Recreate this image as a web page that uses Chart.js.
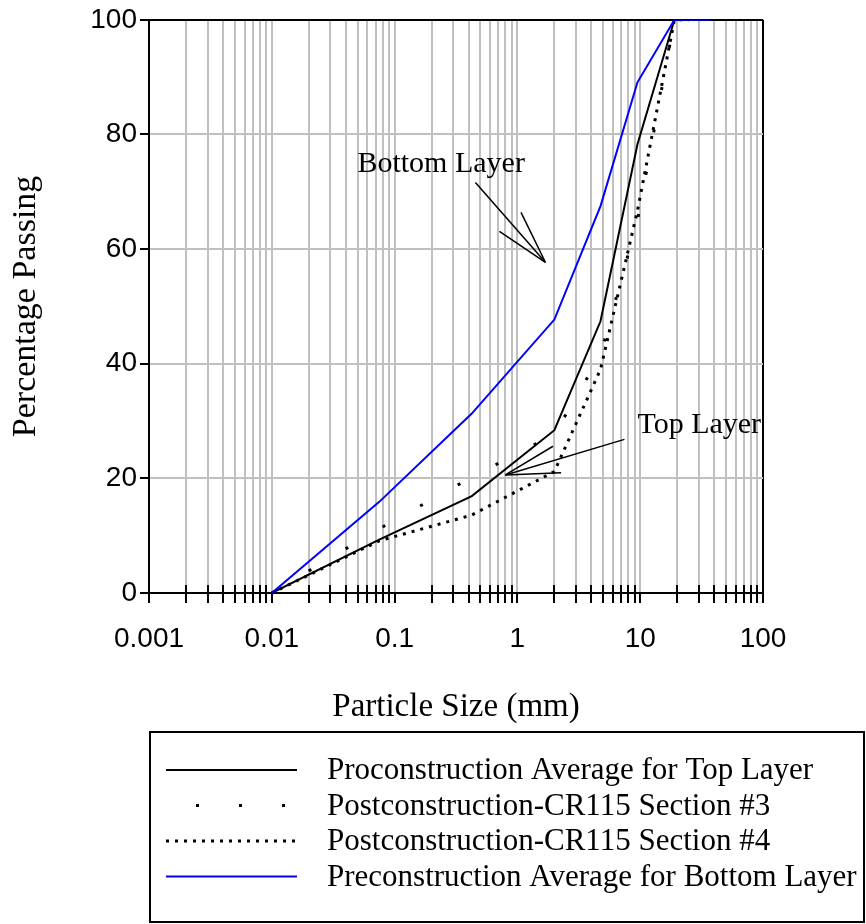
<!DOCTYPE html>
<html>
<head>
<meta charset="utf-8">
<script src="https://cdn.jsdelivr.net/npm/chart.js@4.4.0/dist/chart.umd.min.js"></script>
<style>
  html, body { margin: 0; padding: 0; background: #fff; }
  #wrap { width: 866px; height: 924px; position: relative; }
</style>
</head>
<body>
<div id="wrap"><canvas id="gradation"></canvas></div>
<script>
// sieve sizes (mm) and percentage passing for each gradation
const sieveSizes = [0.01, 0.075, 0.425, 2.0, 4.75, 9.5, 19, 25, 37.5];
const topLayerPre = [0, 9.3, 16.9, 28.4, 47.4, 78.3, 100, 100, 100];
const section3 = [0, 11.2, 20.2, 27.7, 41.5, 65.0, 100, 100, null];
const section4 = [0, 9.1, 13.6, 21.2, 39.0, 66.7, 100, 100, null];
const bottomLayerPre = [0, 15.9, 31.3, 47.7, 67.5, 89.1, 100, 100, 100];

const decadeLabels = ['0.001', '0.01', '0.1', '1', '10', '100'];
const percentTicks = [0, 20, 40, 60, 80, 100];

// every 1..9 x 10^n position between the decades, for grid lines
const gridTicks = [];
decadeLabels.forEach((d, i) => {
  const base = parseFloat(d);
  if (i === decadeLabels.length - 1) { gridTicks.push(base); return; }
  for (let m = 1; m < 10; m++) gridTicks.push(+(base * m).toPrecision(3));
});
const isDecade = v => decadeLabels.some(d => Math.abs(parseFloat(d) - v) < 1e-9);

const serif = "'Liberation Serif', 'Times New Roman', serif";
const sans = "'Liberation Sans', Arial, sans-serif";

function points(values) {
  return sieveSizes.map((s, i) => ({ x: s, y: values[i] })).filter(p => p.y !== null);
}

// arrows pointing from the labels at the curves
const layerNotes = [
  { text: 'Bottom Layer', at: [0.0498, 74.9], tip: [1.69, 57.7], tails: [[0.455, 71.6], [0.714, 63.1], [1.07, 66.4]] },
  { text: 'Top Layer', at: [9.49, 29.3], tip: [0.798, 20.6], tails: [[1.95, 25.6], [7.44, 26.8], [2.27, 21.0]] }
];

const notesPlugin = {
  id: 'layerNotes',
  afterDatasetsDraw(chart) {
    const { ctx, scales: { x, y } } = chart;
    ctx.save();
    ctx.strokeStyle = '#000';
    ctx.lineWidth = 1.5;
    ctx.fillStyle = '#000';
    ctx.font = '30px ' + serif;
    ctx.textBaseline = 'middle';
    layerNotes.forEach(n => {
      const tx = x.getPixelForValue(n.tip[0]), ty = y.getPixelForValue(n.tip[1]);
      n.tails.forEach(t => {
        ctx.beginPath();
        ctx.moveTo(x.getPixelForValue(t[0]), y.getPixelForValue(t[1]));
        ctx.lineTo(tx, ty);
        ctx.stroke();
      });
      ctx.fillText(n.text, x.getPixelForValue(n.at[0]), y.getPixelForValue(n.at[1]));
    });
    ctx.restore();
  },
  afterDraw(chart) {
    // minor x ticks cross the axis line
    const { ctx, scales: { x }, chartArea } = chart;
    ctx.save();
    ctx.strokeStyle = '#000';
    ctx.lineWidth = 2;
    x.ticks.forEach(t => {
      if (isDecade(t.value)) return;
      const px = Math.round(x.getPixelForValue(t.value));
      ctx.beginPath();
      ctx.moveTo(px, chartArea.bottom - 8);
      ctx.lineTo(px, chartArea.bottom);
      ctx.stroke();
    });
    ctx.restore();
  }
};

// boxed legend under the axis title
const boxLegend = {
  id: 'boxLegend',
  afterDraw(chart) {
    const { ctx, chartArea, scales: { x } } = chart;
    const left = chartArea.left + 1, right = chart.width - 2;
    const top = x.bottom + 4, bottom = chart.height - 2;
    ctx.save();
    ctx.strokeStyle = '#000';
    ctx.lineWidth = 2;
    ctx.strokeRect(left, top, right - left, bottom - top);
    ctx.font = '31px ' + serif;
    ctx.fillStyle = '#000';
    ctx.textBaseline = 'middle';
    chart.data.datasets.forEach((ds, i) => {
      const rowY = top + 38 + i * 35.5;
      ctx.beginPath();
      ctx.strokeStyle = ds.borderColor;
      ctx.lineWidth = ds.borderWidth;
      ctx.setLineDash(ds.borderDash || []);
      ctx.lineDashOffset = ds.legendDashOffset || 0;
      ctx.moveTo(left + 16, rowY);
      ctx.lineTo(left + 147, rowY);
      ctx.stroke();
      ctx.setLineDash([]);
      ctx.fillText(ds.label, left + 177, rowY + 1);
    });
    ctx.restore();
  }
};

new Chart(document.getElementById('gradation'), {
  type: 'line',
  data: {
    datasets: [
      { label: 'Proconstruction Average for Top Layer', data: points(topLayerPre),
        borderColor: '#000', borderWidth: 2, order: 2 },
      { label: 'Postconstruction-CR115 Section #3', data: points(section3),
        borderColor: '#000', borderWidth: 3, borderDash: [3, 40], legendDashOffset: -30, order: 3 },
      { label: 'Postconstruction-CR115 Section #4', data: points(section4),
        borderColor: '#000', borderWidth: 3, borderDash: [3, 6], order: 4 },
      { label: 'Preconstruction Average for Bottom Layer', data: points(bottomLayerPre),
        borderColor: '#0000ff', borderWidth: 2, order: 1 }
    ]
  },
  options: {
    responsive: true,
    maintainAspectRatio: false,
    animation: false,
    layout: { padding: { left: 0, top: 19, right: 103, bottom: 196 } },
    elements: { point: { radius: 0 }, line: { tension: 0, borderCapStyle: 'butt' } },
    plugins: { legend: { display: false }, tooltip: { enabled: false } },
    scales: {
      x: {
        type: 'logarithmic',
        min: 0.001,
        max: 100,
        afterFit: s => { s.height = 135; },
        afterBuildTicks: s => { s.ticks = gridTicks.map(v => ({ value: v })); },
        grid: {
          color: c => c.tick && c.tick.value === 100 ? '#000' : '#c0c0c0',
          lineWidth: 2,
          tickColor: '#000',
          tickLength: 10
        },
        border: { color: '#000', width: 2 },
        ticks: {
          autoSkip: false,
          maxRotation: 0,
          padding: 19,
          color: '#000',
          font: { family: sans, size: 28 },
          callback: v => isDecade(v) ? decadeLabels.find(d => Math.abs(parseFloat(d) - v) < 1e-9) : ''
        },
        title: {
          display: true,
          text: 'Particle Size (mm)',
          color: '#000',
          font: { family: serif, size: 33 },
          padding: { top: 0, bottom: 1 }
        }
      },
      y: {
        min: 0,
        max: 100,
        afterFit: s => { s.width = 149; },
        afterBuildTicks: s => { s.ticks = percentTicks.map(v => ({ value: v })); },
        grid: {
          color: c => c.tick && (c.tick.value === 100 || c.tick.value === 0) ? '#000' : '#c0c0c0',
          lineWidth: 2,
          tickColor: '#000',
          tickLength: 9
        },
        border: { color: '#000', width: 2 },
        ticks: {
          padding: 3,
          color: '#000',
          font: { family: sans, size: 28 }
        },
        title: {
          display: true,
          text: 'Percentage Passing',
          color: '#000',
          font: { family: serif, size: 34 },
          padding: { top: 6, bottom: 0 }
        }
      }
    }
  },
  plugins: [notesPlugin, boxLegend]
});
</script>
</body>
</html>
